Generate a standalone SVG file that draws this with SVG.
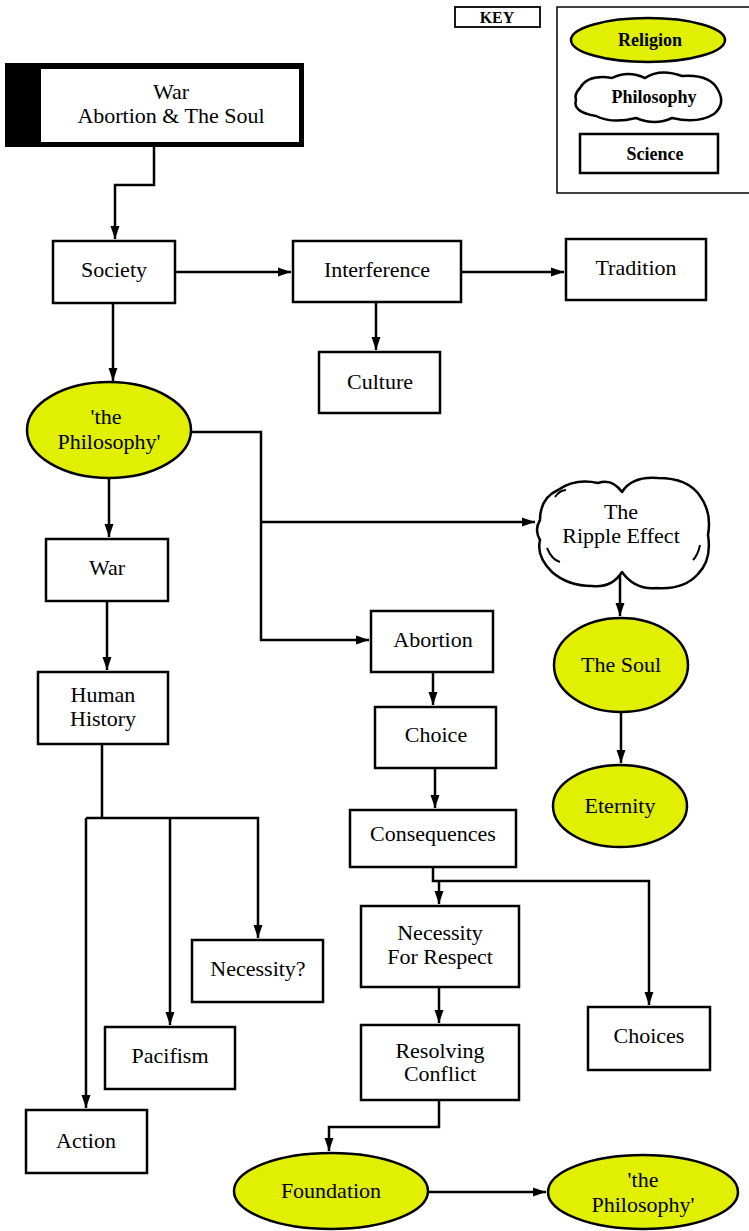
<svg xmlns="http://www.w3.org/2000/svg" width="749" height="1231" viewBox="0 0 749 1231">
<style>
.box{fill:#fff;stroke:#000;stroke-width:2.5}
.rel{fill:#e1f000;stroke:#000;stroke-width:2.5}
.cloud{fill:#fff;stroke:#000;stroke-width:2.5;stroke-linejoin:round}
.tick{fill:none;stroke:#000;stroke-width:2}
.lbl{font-family:"Liberation Serif","DejaVu Serif",serif;font-size:22px;text-anchor:middle;fill:#000}
.key{font-family:"Liberation Serif","DejaVu Serif",serif;font-size:18px;font-weight:bold;text-anchor:middle;fill:#000}
.conn{fill:none;stroke:#000;stroke-width:2.5}
</style>
<defs>
<marker id="ah" markerUnits="userSpaceOnUse" markerWidth="14" markerHeight="10" refX="13" refY="5" orient="auto">
<path d="M0,0.5 L13,5 L0,9.5 Z" fill="#000"/>
</marker>
</defs>
<rect width="749" height="1231" fill="#fff"/>

<g id="connectors">
<path class="conn" d="M154,147 V185 H115 V239" marker-end="url(#ah)"/>
<path class="conn" d="M175,272 H291" marker-end="url(#ah)"/>
<path class="conn" d="M461,272 H564" marker-end="url(#ah)"/>
<path class="conn" d="M376,302 V350" marker-end="url(#ah)"/>
<path class="conn" d="M113,303 V381" marker-end="url(#ah)"/>
<path class="conn" d="M191,432 H261 V640 H369" marker-end="url(#ah)"/>
<path class="conn" d="M261,522 H535" marker-end="url(#ah)"/>
<path class="conn" d="M620,574 V616" marker-end="url(#ah)"/>
<path class="conn" d="M621,712 V763" marker-end="url(#ah)"/>
<path class="conn" d="M109,478 V537" marker-end="url(#ah)"/>
<path class="conn" d="M107,601 V670" marker-end="url(#ah)"/>
<path class="conn" d="M102,744 V818"/>
<path class="conn" d="M86,818 H258 V938" marker-end="url(#ah)"/>
<path class="conn" d="M86,818 V1108" marker-end="url(#ah)"/>
<path class="conn" d="M170,818 V1025" marker-end="url(#ah)"/>
<path class="conn" d="M433,672 V705" marker-end="url(#ah)"/>
<path class="conn" d="M435,768 V808" marker-end="url(#ah)"/>
<path class="conn" d="M433,867 V881 H649 V1005" marker-end="url(#ah)"/>
<path class="conn" d="M439,881 V904" marker-end="url(#ah)"/>
<path class="conn" d="M439,987 V1023" marker-end="url(#ah)"/>
<path class="conn" d="M439,1100 V1127 H329 V1151" marker-end="url(#ah)"/>
<path class="conn" d="M428,1192 H546" marker-end="url(#ah)"/>
</g>

<g id="title">
<rect x="5" y="63" width="299" height="84" fill="#000"/>
<rect x="41" y="69" width="258" height="73" fill="#fff"/>
<text class="lbl" x="171" y="99">War</text>
<text class="lbl" x="171" y="123">Abortion &amp; The Soul</text>
</g>

<g id="key-label">
<rect class="box" x="455" y="7" width="85" height="20" style="stroke-width:1.8"/>
<text class="key" x="497" y="23" style="font-size:16px">KEY</text>
</g>

<g id="key">
<rect x="557" y="7" width="195" height="186" fill="#fff" stroke="#000" stroke-width="1.5"/>
<ellipse class="rel" cx="648" cy="40" rx="77" ry="22"/>
<text class="key" x="650" y="46">Religion</text>
<path class="cloud" d="M580,88 Q588,74 612,78 Q628,70 645,78 Q660,68 682,76 Q710,74 718,90 Q726,104 714,114 Q698,124 672,118 Q655,126 636,118 Q612,124 596,116 Q572,112 576,100 Q574,94 580,88 Z"/>
<text class="key" x="654" y="103">Philosophy</text>
<rect class="box" x="580" y="134" width="138" height="39"/>
<text class="key" x="655" y="160">Science</text>
</g>

<g id="society"><rect class="box" x="53" y="241" width="122" height="62"/><text class="lbl" x="114" y="277">Society</text></g>
<g id="interference"><rect class="box" x="293" y="241" width="168" height="61"/><text class="lbl" x="377" y="277">Interference</text></g>
<g id="tradition"><rect class="box" x="566" y="239" width="140" height="61"/><text class="lbl" x="636" y="275">Tradition</text></g>
<g id="culture"><rect class="box" x="319" y="352" width="121" height="61"/><text class="lbl" x="380" y="389">Culture</text></g>

<g id="philosophy1"><ellipse class="rel" cx="109" cy="430" rx="82" ry="48"/><text class="lbl" x="106" y="424">'the</text><text class="lbl" x="109" y="449">Philosophy'</text></g>

<g id="ripple">
<path class="cloud" d="M540,520 Q540,498 558,490 Q575,478 598,483 Q612,478 622,492 Q632,476 658,478 Q688,478 700,496 Q712,512 708,535 Q712,560 698,574 Q684,590 656,588 Q635,590 622,572 Q612,588 592,586 Q568,586 552,572 Q536,556 540,540 Q534,530 540,520 Z"/>
<path class="tick" d="M547,548 Q552,560 560,562"/>
<path class="tick" d="M555,497 Q560,490 566,490"/>
<path class="tick" d="M700,545 Q698,555 693,560"/>
<text class="lbl" x="621" y="519">The</text>
<text class="lbl" x="621" y="543">Ripple Effect</text>
</g>

<g id="soul"><ellipse class="rel" cx="621" cy="665" rx="67" ry="47"/><text class="lbl" x="621" y="672">The Soul</text></g>
<g id="eternity"><ellipse class="rel" cx="620" cy="806" rx="67" ry="41"/><text class="lbl" x="620" y="813">Eternity</text></g>

<g id="war"><rect class="box" x="46" y="539" width="122" height="62"/><text class="lbl" x="107" y="575">War</text></g>
<g id="history"><rect class="box" x="38" y="672" width="130" height="72"/><text class="lbl" x="103" y="702">Human</text><text class="lbl" x="103" y="726">History</text></g>
<g id="necessityq"><rect class="box" x="192" y="940" width="131" height="62"/><text class="lbl" x="258" y="976">Necessity?</text></g>
<g id="pacifism"><rect class="box" x="105" y="1027" width="130" height="62"/><text class="lbl" x="170" y="1063">Pacifism</text></g>
<g id="action"><rect class="box" x="26" y="1110" width="121" height="63"/><text class="lbl" x="86" y="1148">Action</text></g>

<g id="abortion"><rect class="box" x="371" y="611" width="122" height="61"/><text class="lbl" x="433" y="647">Abortion</text></g>
<g id="choice"><rect class="box" x="375" y="707" width="121" height="61"/><text class="lbl" x="436" y="742">Choice</text></g>
<g id="consequences"><rect class="box" x="350" y="810" width="166" height="57"/><text class="lbl" x="433" y="841">Consequences</text></g>
<g id="respect"><rect class="box" x="361" y="906" width="158" height="81"/><text class="lbl" x="440" y="940">Necessity</text><text class="lbl" x="440" y="964">For Respect</text></g>
<g id="resolving"><rect class="box" x="361" y="1025" width="158" height="75"/><text class="lbl" x="440" y="1058">Resolving</text><text class="lbl" x="440" y="1081">Conflict</text></g>
<g id="choices"><rect class="box" x="588" y="1007" width="122" height="63"/><text class="lbl" x="649" y="1043">Choices</text></g>

<g id="foundation"><ellipse class="rel" cx="331" cy="1191" rx="97" ry="38"/><text class="lbl" x="331" y="1198">Foundation</text></g>
<g id="philosophy2"><ellipse class="rel" cx="643" cy="1192" rx="95" ry="37"/><text class="lbl" x="643" y="1187">'the</text><text class="lbl" x="643" y="1212">Philosophy'</text></g>
</svg>
